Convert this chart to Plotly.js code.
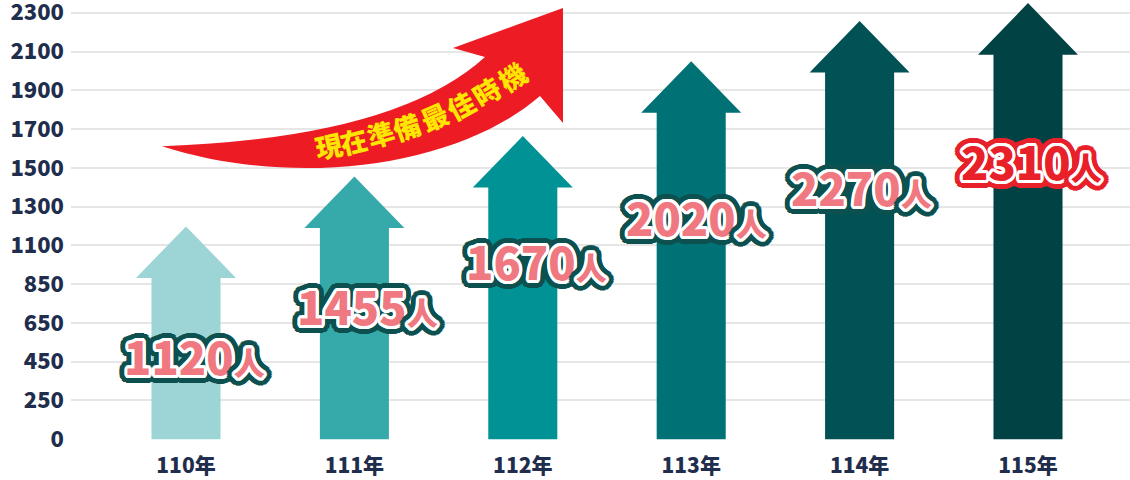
<!DOCTYPE html>
<html>
<head>
<meta charset="utf-8">
<script src="https://cdn.plot.ly/plotly-3.0.1.min.js"></script>
<style>
  html, body { margin: 0; padding: 0; background: #fff; }
  #chart { width: 1130px; height: 480px; }
</style>
</head>
<body>
<div id="chart"></div>
<script>
// years on the x axis
const years = ['110年', '111年', '112年', '113年', '114年', '115年'];
// people per year (label values)
const people = [1120, 1455, 1670, 2020, 2270, 2310];
// y axis tick labels (evenly spaced in the picture)
const yTickText = ['0', '250', '450', '650', '850', '1100', '1300', '1500', '1700', '1900', '2100', '2300'];
// arrow tip height, in grid steps
const arrowTop = [5.49, 6.78, 7.82, 9.75, 10.79, 11.25];
// where the number label sits, in grid steps
const labelLevel = [2.16, 3.45, 4.61, 5.75, 6.52, 7.19];
const labelShift = [0.05, 0.08, 0.08, 0.03, 0.01, 0.02];
const arrowColors = ['#9dd5d6', '#36a9ab', '#009294', '#007275', '#005254', '#014244'];
const slogan = '現在準備最佳時機';

const shaftHalf = 0.205, headHalf = 0.297, headLen = 1.33;

// pixel -> data helpers for the decoration
const px0 = 186, pxStep = 168.4, py0 = 438.8, pyStep = 38.73;
const dx = p => (p - px0) / pxStep;
const dy = p => (py0 - p) / pyStep;

const traces = years.map((yr, i) => {
  const t = arrowTop[i], b = t - headLen;
  return {
    type: 'scatter', mode: 'lines', fill: 'toself',
    x: [i - shaftHalf, i - shaftHalf, i - headHalf, i, i + headHalf, i + shaftHalf, i + shaftHalf, i - shaftHalf],
    y: [0, b, b, t, b, b, 0, 0],
    fillcolor: arrowColors[i], line: {width: 0, color: arrowColors[i]},
    hoverinfo: 'skip', showlegend: false
  };
});

function ring(color, r, n) {
  const out = [];
  for (let k = 0; k < n; k++) {
    const a = 2 * Math.PI * k / n;
    out.push(`${(r * Math.cos(a)).toFixed(1)}px ${(r * Math.sin(a)).toFixed(1)}px 0 ${color}`);
  }
  return out;
}
function outline(inner, outer) {
  return [].concat(
    ring(inner, 1.5, 12), ring(inner, 3, 18),
    ring(outer, 4.5, 22), ring(outer, 6.3, 28), ring(outer, 8, 32)
  ).join(', ');
}

const annotations = people.map((v, i) => {
  const last = i === people.length - 1;
  return {
    x: i + labelShift[i], y: labelLevel[i], xref: 'x', yref: 'y',
    text: `${v}<span style="font-size:31px">人</span>`,
    showarrow: false, xanchor: 'center', yanchor: 'middle',
    font: {
      family: '"Noto Sans CJK TC", "Noto Sans", sans-serif', size: 45, weight: 900,
      color: last ? '#e8202a' : '#f07880',
      shadow: last ? outline('#ffffff', '#e8202a') : outline('#ffffff', '#0d5050')
    }
  };
});

// slogan characters along the red swoosh
const chars = slogan.split('');
const charPx = [[328, 145], [353.5, 140], [380, 133.3], [406.7, 126], [434, 116.7], [460, 105], [486, 91.7], [512, 76.7]];
chars.forEach((c, k) => {
  const a = charPx[Math.max(0, k - 1)], b = charPx[Math.min(chars.length - 1, k + 1)];
  const ang = Math.atan2(b[1] - a[1], b[0] - a[0]) * 180 / Math.PI;
  annotations.push({
    x: dx(charPx[k][0]), y: dy(charPx[k][1]), xref: 'x', yref: 'y',
    text: c, showarrow: false, textangle: ang * 1.1,
    xanchor: 'center', yanchor: 'middle',
    font: {family: '"Noto Sans CJK TC", sans-serif', size: 27, weight: 900, color: '#ffe600'}
  });
});

const P = (x, y) => `${dx(x).toFixed(4)},${dy(y).toFixed(4)}`;
const swoosh = `M ${P(162, 146)} Q ${P(396, 138)} ${P(485, 57)} L ${P(453, 48)} L ${P(563, 8)} L ${P(563, 123)} L ${P(540, 96)} ` +
  `C ${P(460, 165)} ${P(300, 190)} ${P(162, 146)} Z`;

const axisFont = {family: '"Noto Sans CJK TC", "Noto Sans", sans-serif', size: 22, weight: 900, color: '#1f2e4d'};

const layout = {
  width: 1130, height: 480,
  margin: {l: 71, r: 0, t: 3, b: 40.4, pad: 0},
  paper_bgcolor: '#ffffff', plot_bgcolor: '#ffffff',
  xaxis: {
    range: [dx(71), dx(1130)], tickvals: years.map((_, i) => i), ticktext: years,
    showgrid: false, zeroline: false, showline: false, ticks: '', ticklabelstandoff: 11,
    ticklabeloverflow: 'allow',
    tickfont: Object.assign({}, axisFont, {size: 21}), fixedrange: true
  },
  yaxis: {
    range: [-0.02, dy(3)], tickvals: yTickText.map((_, i) => i), ticktext: yTickText,
    showgrid: true, gridcolor: '#e6e6e6', gridwidth: 2, zeroline: false, showline: false,
    ticks: '', ticklabelstandoff: 6, ticklabeloverflow: 'allow', tickfont: axisFont, fixedrange: true
  },
  shapes: [{type: 'path', xref: 'x', yref: 'y', path: swoosh, fillcolor: '#ed1c24', line: {width: 0}, layer: 'above'}],
  annotations: annotations
};

Plotly.newPlot('chart', traces, layout, {staticPlot: true, displayModeBar: false});
</script>
</body>
</html>
